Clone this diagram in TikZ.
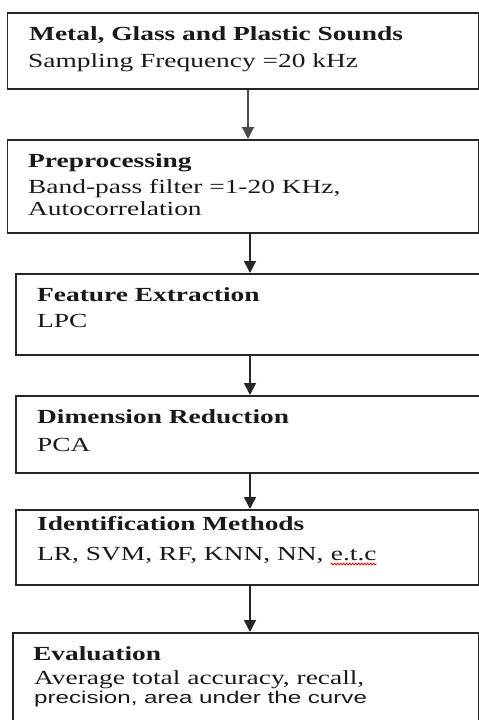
\documentclass[tikz,border=0pt]{standalone}
\usepackage{fontspec}
\usetikzlibrary{arrows.meta,decorations.pathmorphing}
\newfontfamily\serifA[FakeStretch=1.37]{Liberation Serif}
\newfontfamily\sansA[FakeStretch=1.42]{Liberation Sans}
\tikzset{
  box/.style={draw=black!85, line width=1.6pt, rectangle, inner sep=0pt, anchor=north west},
  txt/.style={inner sep=0pt, anchor=base west, font=\serifA\fontsize{20}{24}\selectfont, text=black!90},
  stxt/.style={inner sep=0pt, anchor=base west, font=\sansA\fontsize{17}{20}\selectfont, text=black!90},
  arr/.style={draw=black!85, line width=1.6pt, -{Triangle[width=12pt,length=12pt]}},
}
\begin{document}
\begin{tikzpicture}[x=1pt,y=-1pt]
\useasboundingbox (0,0) rectangle (479,720);
% boxes
\node[box, minimum width=471pt, minimum height=76pt] (b1) at (6.5,12) {};
\node[box, minimum width=471pt, minimum height=93pt] (b2) at (6.5,139) {};
\node[box, minimum width=470pt, minimum height=81pt] (b3) at (15,273) {};
\node[box, minimum width=470pt, minimum height=77pt] (b4) at (15,395) {};
\node[box, minimum width=462.5pt, minimum height=75pt] (b5) at (15,509) {};
\node[box, minimum width=466pt, minimum height=100pt] (b6) at (12,632) {};
% arrow columns
\coordinate (ax1) at (248,0);
\coordinate (ax) at (250,0);
\draw[arr, draw=black!70, line width=1.3pt] (b1.south -| ax1) -- (b2.north -| ax1);
\draw[arr] (b2.south -| ax) -- (b3.north -| ax);
\draw[arr] (b3.south -| ax) -- (b4.north -| ax);
\draw[arr] (b4.south -| ax) -- (b5.north -| ax);
\draw[arr] (b5.south -| ax) -- (b6.north -| ax);
% texts
\node[txt] (t1a) at (29,40) {\bfseries Metal, Glass and Plastic Sounds};
\node[txt] (t1b) at (28,67) {Sampling Frequency =20 kHz};
\node[txt] (t2a) at (28,167) {\bfseries Preprocessing};
\node[txt] (t2b) at (28,193) {Band-pass filter =1-20 KHz,};
\node[txt] (t2c) at (28,215) {Autocorrelation};
\node[txt] (t3a) at (37,301) {\bfseries Feature Extraction};
\node[txt] (t3b) at (37,327) {LPC};
\node[txt] (t4a) at (37,423) {\bfseries Dimension Reduction};
\node[txt] (t4b) at (37,451) {PCA};
\node[txt] (t5a) at (37,530) {\bfseries Identification Methods};
\node[txt] (t5b) at (37,560) {LR, SVM, RF, KNN, NN,};
\node[txt] (t5c) at ([xshift=7pt]t5b.base east) {e.t.c};
\draw[red!85!black, line width=0.8pt, decorate, decoration={snake, amplitude=0.9pt, segment length=3pt}]
  ([yshift=-4pt]t5c.base west) -- ([yshift=-4pt]t5c.base east);
\node[txt] (t6a) at (33,660) {\bfseries Evaluation};
\node[txt] (t6b) at (34,684) {Average total accuracy, recall,};
\node[stxt] (t6c) at (34,703) {precision, area under the curve};
\end{tikzpicture}
\end{document}
